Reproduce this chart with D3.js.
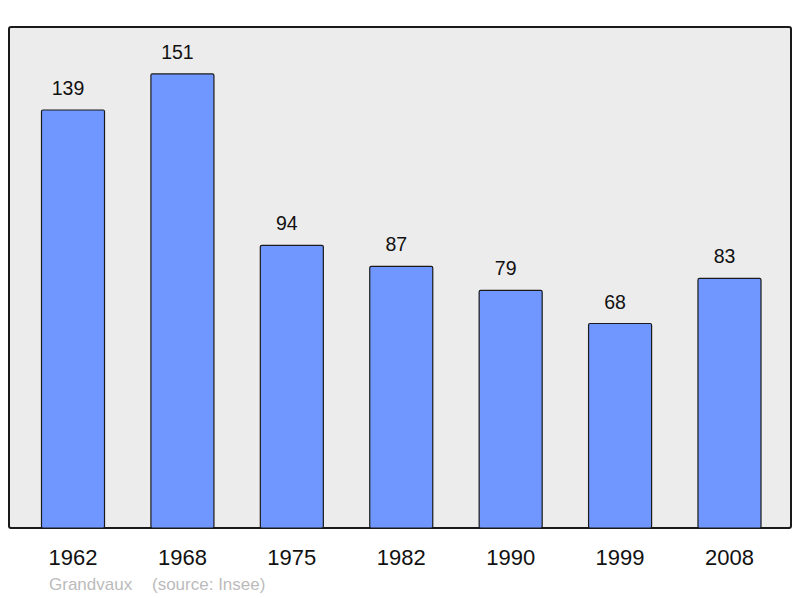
<!DOCTYPE html>
<html><head><meta charset="utf-8">
<script src="https://cdn.jsdelivr.net/npm/d3@7/dist/d3.min.js"></script>
<style>body{margin:0;background:#fff}svg{display:block}</style>
</head><body>
<svg id="c" width="800" height="598"></svg>
<script>
const years = ["1962","1968","1975","1982","1990","1999","2008"];
const population = [139,151,94,87,79,68,83];
const footerName = "Grandvaux";
const footerSource = "(source: Insee)";

const svg = d3.select("#c");
const font = "'Liberation Sans', Arial, sans-serif";
const panel = {x0: 9, y0: 27, x1: 791, y1: 528};

svg.append("rect").attr("x", panel.x0).attr("y", panel.y0)
  .attr("width", panel.x1 - panel.x0).attr("height", panel.y1 - panel.y0)
  .attr("rx", 2).attr("fill", "#ececec").attr("stroke", "#1a1a1a").attr("stroke-width", 2);

const x = d3.scaleBand().domain(years).range([18.3, 784.2]).paddingInner(0.424).paddingOuter(0.212);
const y = d3.scaleLinear().domain([0, 166.6]).range([panel.y1, panel.y0]);

svg.selectAll("rect.bar").data(years).join("rect").attr("class", "bar")
  .attr("x", d => x(d)).attr("width", x.bandwidth())
  .attr("y", (d, i) => y(population[i])).attr("height", (d, i) => panel.y1 - y(population[i]))
  .attr("rx", 1.5).attr("fill", "#7096ff").attr("stroke", "#1a1a1a").attr("stroke-width", 1.2);

svg.selectAll("text.val").data(years).join("text").attr("class", "val")
  .attr("x", d => x(d) + x.bandwidth() / 2 - 5).attr("y", (d, i) => y(population[i]) - 15)
  .attr("text-anchor", "middle").attr("font-family", font).attr("font-size", 19.5).attr("fill", "#111")
  .text((d, i) => population[i]);

const xAxis = d3.axisBottom(x).tickSize(0).tickPadding(0);
const ax = svg.append("g").attr("transform", `translate(0,${panel.y1})`).call(xAxis);
ax.select(".domain").remove();
ax.selectAll("text").attr("font-family", font).attr("font-size", 22).attr("fill", "#111")
  .attr("dy", null).attr("y", 37);

svg.append("text").attr("x", 49).attr("y", 590).attr("font-family", font).attr("font-size", 17)
  .attr("fill", "#bbbbbb").text(footerName);
svg.append("text").attr("x", 152).attr("y", 590).attr("font-family", font).attr("font-size", 17)
  .attr("fill", "#bbbbbb").text(footerSource);
</script>
</body></html>
